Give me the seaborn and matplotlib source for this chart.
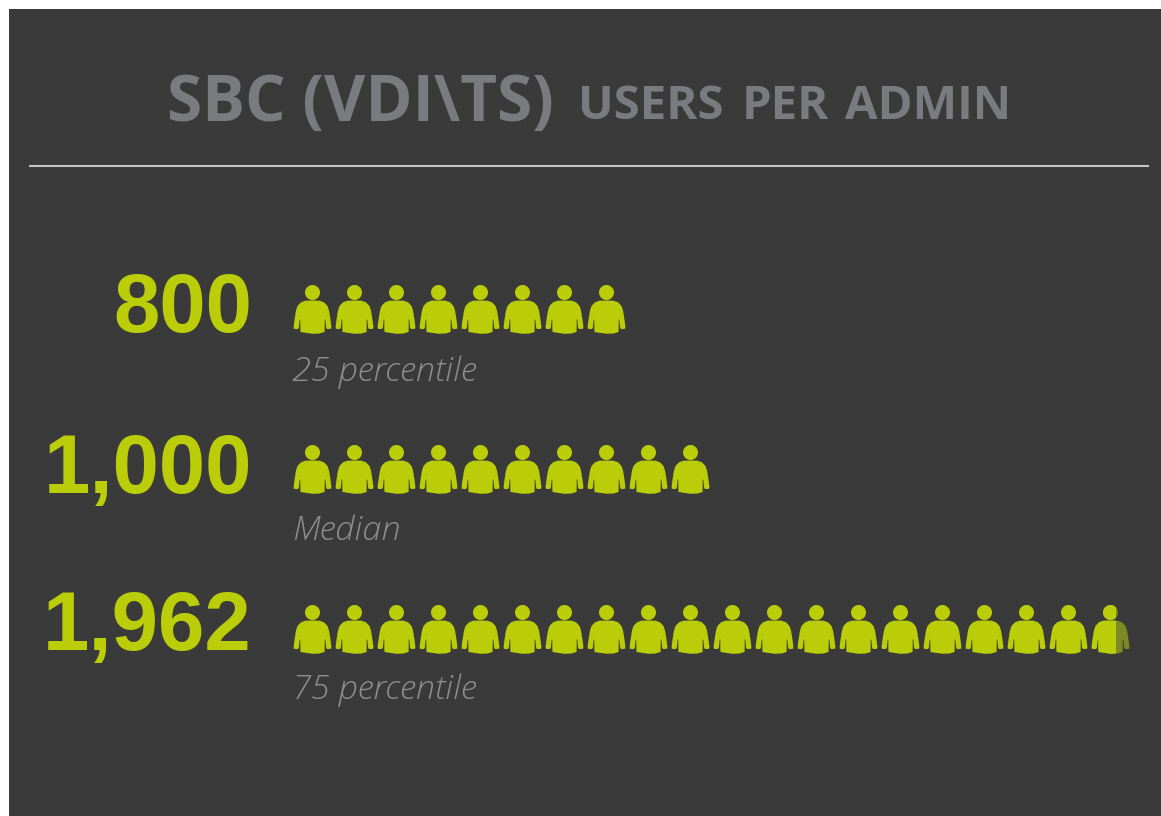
import matplotlib
matplotlib.use("Agg")
import matplotlib.pyplot as plt
from matplotlib.patches import Rectangle
from matplotlib.path import Path
import seaborn as sns
import pandas as pd
import numpy as np

row_names = ["25 percentile", "Median", "75 percentile"]
row_values = [800, 1000, 1962]
row_labels = ["800", "1,000", "1,962"]
users_per_icon = 100
header_words = ["USERS", "PER", "ADMIN"]

c_bg = "#3a3a3a"
c_title = "#7a7b7f"
c_line = "#c4c4c4"
c_lime = "#bacd08"
c_dim = "#7c8a24"
c_note = "#8e8e8e"

W, H, DPI = 1161, 816, 100


def person_marker():
    """Little person shape, head and body with arms."""
    t = np.linspace(0, 2 * np.pi, 40)
    head = np.column_stack([7.5 * np.cos(t), 17 + 7.5 * np.sin(t)])
    right = [(0, 9), (7, 8.8), (11.5, 7.2), (15, 3.5), (16.5, -1), (17.8, -9), (18.9, -17),
             (18.6, -19.3), (14.5, -19.6), (13.6, -18), (12.8, -10), (12.2, -10),
             (12.2, -18), (12, -22.5), (7, -24)]
    left = [(-x, y) for x, y in reversed(right[:-1])]
    body = np.array(right + [(0, -24.3)] + left + [(0, 9)])
    verts = np.vstack([head, body])
    codes = [Path.MOVETO] + [Path.LINETO] * (len(head) - 2) + [Path.CLOSEPOLY]
    codes += [Path.MOVETO] + [Path.LINETO] * (len(body) - 2) + [Path.CLOSEPOLY]
    return Path(verts, codes)


def px(x, y):
    return x / W, 1 - y / H


sns.set_theme(style="white")
plt.rcParams["font.family"] = ["Open Sans", "DejaVu Sans"]

fig = plt.figure(figsize=(W / DPI, H / DPI), dpi=DPI, facecolor="white")
fig.add_artist(Rectangle((9 / W, 0), 1 - 9 / W, 1 - 9 / H, transform=fig.transFigure,
                         facecolor=c_bg, edgecolor="none", zorder=-1))

# one cell is 42px wide, three rows 160px high
ax = fig.add_axes([291 / W, 1 - 709 / H, 840 / W, 480 / H])
ax.patch.set_alpha(0)

rows = []
for i, v in enumerate(row_values):
    n = int(np.ceil(v / users_per_icon))
    for k in range(n):
        rows.append({"x": (k + 0.5) * users_per_icon, "row": i, "full": (k + 1) * users_per_icon <= v})
df = pd.DataFrame(rows)

marker = person_marker()
size = (49 * 72 / DPI) ** 2

sns.scatterplot(data=df[df.full], x="x", y="row", marker=marker, s=size, color=c_lime,
                linewidth=0, ax=ax, clip_on=False)
part = df[~df.full]
sns.scatterplot(data=part, x="x", y="row", marker=marker, s=size, color=c_dim,
                linewidth=0, ax=ax, clip_on=False)
sns.scatterplot(data=part, x="x", y="row", marker=marker, s=size, color=c_lime,
                linewidth=0, ax=ax)
clip = Rectangle((0, -0.5), row_values[2], 3, transform=ax.transData)
ax.collections[-1].set_clip_path(clip)

ax.set_xlim(0, 2000)
ax.set_ylim(2.5, -0.5)
ax.axis("off")

# header
fig.text(*px(167, 121), "SBC (VDI\\TS)", color=c_title, fontsize=46, fontweight="bold", ha="left", va="baseline")
for word, x in zip(header_words, [578, 742, 845]):
    fig.text(*px(x, 119), word, color=c_title, fontsize=34, fontweight="bold", ha="left", va="baseline")
fig.add_artist(plt.Line2D([29 / W, 1149 / W], [1 - 165.5 / H] * 2, color=c_line, lw=1.5, solid_capstyle="butt"))

for i in range(3):
    base = 332 + 161 * i
    if i == 2:
        base -= 4
    fig.text(*px(252, base), row_labels[i], color=c_lime, fontsize=60, fontweight="bold",
             family=["Liberation Sans", "DejaVu Sans"], ha="right", va="baseline")
    fig.text(*px(292, 381 + 159 * i), row_names[i], color=c_note, fontsize=24.7, fontstyle="italic", fontweight="light",
             ha="left", va="baseline")

fig.savefig("out.png", dpi=DPI)
